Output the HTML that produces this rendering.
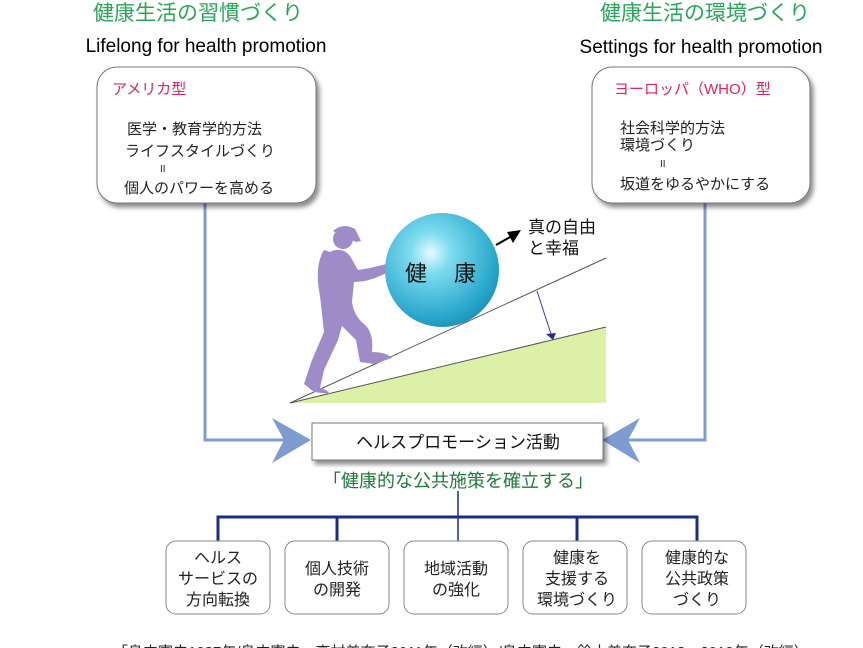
<!DOCTYPE html>
<html><head><meta charset="utf-8"><style>
html,body{margin:0;padding:0;background:#fff;}
svg{display:block;}
text{font-family:"Liberation Sans","Noto Sans CJK JP",sans-serif;}
</style></head><body>
<svg width="863" height="648" viewBox="0 0 863 648" xmlns="http://www.w3.org/2000/svg">
<defs>
<radialGradient id="ball" cx="0.4" cy="0.35" r="0.7">
<stop offset="0" stop-color="#e6fbff"/><stop offset="0.25" stop-color="#7fdcef"/><stop offset="0.8" stop-color="#2aa8cc"/><stop offset="1" stop-color="#1b8fb4"/>
</radialGradient>
<filter id="sh" x="-10%" y="-10%" width="130%" height="130%"><feDropShadow dx="3" dy="4" stdDeviation="2.5" flood-color="#000" flood-opacity="0.45"/></filter>
</defs>
<text x="198" y="20" font-size="21" fill="#2aa65a" text-anchor="middle">健康生活の習慣づくり</text>
<text x="206" y="52" font-size="19" fill="#000" text-anchor="middle">Lifelong for health promotion</text>
<text x="705" y="20" font-size="21" fill="#2aa65a" text-anchor="middle">健康生活の環境づくり</text>
<text x="701" y="53" font-size="19" fill="#000" text-anchor="middle">Settings for health promotion</text>

<g stroke="#7f9cd0" stroke-width="3" fill="none">
<polyline points="205,203 205,440 290,440"/>
<polyline points="705,203 705,440 625,440"/>
</g>
<polygon points="272,418 311,440 272,463 284,440" fill="#7f9cd0"/>
<polygon points="640,418 602,440 640,463 628,440" fill="#7f9cd0"/>

<rect x="97" y="67" width="219" height="136" rx="20" fill="#fff" stroke="#777" stroke-width="1" filter="url(#sh)"/>
<text x="112" y="94" font-size="15" fill="#e0245e">アメリカ型</text>
<g font-size="15" fill="#222">
<text x="127" y="134">医学・教育学的方法</text>
<text x="125" y="156">ライフスタイルづくり</text>
<text x="160" y="172" font-size="10">II</text>
<text x="124" y="193">個人のパワーを高める</text>
</g>
<rect x="592" y="67" width="218" height="136" rx="20" fill="#fff" stroke="#777" stroke-width="1" filter="url(#sh)"/>
<text x="614" y="94" font-size="15" fill="#e0245e">ヨーロッパ（WHO）型</text>
<g font-size="15" fill="#222">
<text x="620" y="133">社会科学的方法</text>
<text x="620" y="150">環境づくり</text>
<text x="660" y="167" font-size="10">II</text>
<text x="620" y="189">坂道をゆるやかにする</text>
</g>

<polygon points="290,403 606,327 606,403" fill="#ddf0a8"/>
<line x1="290" y1="403" x2="606" y2="327" stroke="#555" stroke-width="1"/>
<line x1="290" y1="403" x2="606" y2="258" stroke="#555" stroke-width="1"/>
<line x1="537" y1="291" x2="551" y2="334" stroke="#3a3aa0" stroke-width="1"/>
<polygon points="546,334 556,333 553,340" fill="#2a2a90"/>
<!-- person -->
<circle cx="343" cy="239" r="10" fill="#a08bc9"/>
<path fill="#a08bc9" d="M333,231 q10,-9 22,-2 l6,12 -5,1 z"/>
<path fill="#a08bc9" d="M330,252 q12,-6 20,4 l8,14 q14,-2 28,-6 l2,8 q-18,10 -34,10 l-2,20 q2,14 12,22 q10,8 8,28 q14,0 20,6 l-18,6 -14,-2 -4,-22 -14,-14 -4,14 -14,30 -4,18 q8,2 10,6 l-16,-2 -10,-8 8,-24 12,-28 -4,-36 q-6,-30 4,-46z"/>
<circle cx="442" cy="270" r="57" fill="url(#ball)"/>
<text x="405" y="281" font-size="22" fill="#111">健</text>
<text x="454" y="281" font-size="22" fill="#111">康</text>
<line x1="496" y1="245" x2="512" y2="236" stroke="#000" stroke-width="2"/>
<polygon points="521,230 507,232 513,243" fill="#000"/>
<text x="528" y="233" font-size="17" fill="#111">真の自由</text>
<text x="528" y="254" font-size="17" fill="#111">と幸福</text>

<rect x="312" y="423" width="291" height="37" fill="#fff" stroke="#777" stroke-width="1" filter="url(#sh)"/>
<text x="458" y="448" font-size="17" fill="#111" text-anchor="middle">ヘルスプロモーション活動</text>
<text x="458" y="487" font-size="18" fill="#1d7a3a" text-anchor="middle">「健康的な公共施策を確立する」</text>

<g stroke="#1b2d84" stroke-width="3" fill="none">
<line x1="458" y1="491" x2="458" y2="541" stroke-width="1.5"/>
<polyline points="218,541 218,517 697,517 697,541"/>
<line x1="337" y1="517" x2="337" y2="541"/>
<line x1="577" y1="517" x2="577" y2="541"/>
</g>
<g fill="#fff" stroke="#888" stroke-width="1">
<rect x="166" y="541" width="104" height="73" rx="10"/>
<rect x="285" y="541" width="104" height="73" rx="10"/>
<rect x="404" y="541" width="104" height="73" rx="10"/>
<rect x="523" y="541" width="104" height="73" rx="10"/>
<rect x="642" y="541" width="104" height="73" rx="10"/>
</g>
<g font-size="16" fill="#222" text-anchor="middle">
<text x="218" y="563">ヘルス</text>
<text x="218" y="584">サービスの</text>
<text x="218" y="605">方向転換</text>
<text x="337" y="574">個人技術</text>
<text x="337" y="595">の開発</text>
<text x="456" y="574">地域活動</text>
<text x="456" y="595">の強化</text>
<text x="577" y="563">健康を</text>
<text x="577" y="584">支援する</text>
<text x="577" y="605">環境づくり</text>
<text x="697" y="563">健康的な</text>
<text x="697" y="584">公共政策</text>
<text x="697" y="605">づくり</text>
</g>
<text x="113" y="657" font-size="15" fill="#222">「島内憲夫1987年/島内憲夫、高村美奈子2011年（改編）/島内憲夫、鈴木美奈子2018、2019年（改編）</text>
</svg>
</body></html>
